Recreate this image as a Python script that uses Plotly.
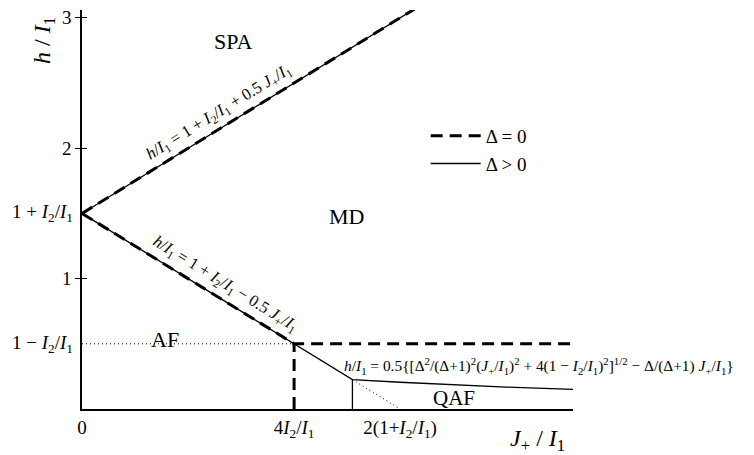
import plotly.graph_objects as go

# phase boundaries (x = J+/I1, y = h/I1, I2/I1 = 0.5)
upper_j = [0.0, 3.3]
upper_h = [1.5, 3.15]

# Delta = 0 (dashed)
lower0_j = [0.0, 2.0, 4.63]
lower0_h = [1.5, 0.5, 0.5]
vert0_j = [2.0, 2.0]
vert0_h = [0.0, 0.5]

# Delta > 0 (solid)
lower1_j = [0.0, 2.55, 3.0, 3.5, 4.0, 4.63]
lower1_h = [1.5, 0.225, 0.205, 0.185, 0.168, 0.15]
vert1_j = [2.55, 2.55]
vert1_h = [0.0, 0.225]

# dotted guides
dot_af_j = [0.0, 2.0]
dot_af_h = [0.5, 0.5]
dot_qaf_j = [2.55, 3.0]
dot_qaf_h = [0.225, 0.0]

ytick_vals = [1, 2, 3]
ytick_text = ["1", "2", "3"]
xtick_vals = [0, 2, 3]
xtick_text = ["0", "4<i>I</i><sub>2</sub>/<i>I</i><sub>1</sub>",
              "2(1+<i>I</i><sub>2</sub>/<i>I</i><sub>1</sub>)"]

FONT = "Liberation Serif"
I21 = "<i>I</i><sub>2</sub>/<i>I</i><sub>1</sub>"

fig = go.Figure()

solid = dict(color="black", width=1.3)
dashed = dict(color="black", width=3, dash="12px,7px")
dotted = dict(color="black", width=1, dash="1px,3px")

for jj, hh, show in [(upper_j, upper_h, True), (lower1_j, lower1_h, False), (vert1_j, vert1_h, False)]:
    fig.add_trace(go.Scatter(x=jj, y=hh, mode="lines", line=solid, name="Δ > 0",
                             legendgroup="b", showlegend=show, legendrank=2, hoverinfo="skip"))
for jj, hh, show in [(upper_j, upper_h, True), (lower0_j, lower0_h, False), (vert0_j, vert0_h, False)]:
    fig.add_trace(go.Scatter(x=jj, y=hh, mode="lines", line=dashed, name="Δ = 0",
                             legendgroup="a", showlegend=show, legendrank=1, hoverinfo="skip"))
for jj, hh in [(dot_af_j, dot_af_h), (dot_qaf_j, dot_qaf_h)]:
    fig.add_trace(go.Scatter(x=jj, y=hh, mode="lines", line=dotted, yaxis="y2",
                             showlegend=False, hoverinfo="skip"))

ann = []
def txt(x, y, s, size, **kw):
    ann.append(dict(x=x, y=y, text=s, showarrow=False, font=dict(family=FONT, size=size, color="black"), **kw))

txt(1.42, 2.82, "SPA", 22)
txt(2.49, 1.48, "MD", 22)
txt(0.78, 0.53, "AF", 22)
txt(3.51, 0.085, "QAF", 21)
txt(1.36, 2.18, "<i>h</i>/<i>I</i><sub>1</sub> = 1 + " + I21 + " + 0.5 <i>J</i><sub>+</sub>/<i>I</i><sub>1</sub>",
    16.5, textangle=-31.7, xshift=-8, yshift=13)
txt(1.3, 0.85, "<i>h</i>/<i>I</i><sub>1</sub> = 1 + " + I21 + " − 0.5 <i>J</i><sub>+</sub>/<i>I</i><sub>1</sub>",
    16.5, textangle=31.7, xshift=6, yshift=14)
txt(2.455, 0.33, "<i>h</i>/<i>I</i><sub>1</sub> = 0.5{[Δ<sup>2</sup>/(Δ+1)<sup>2</sup>(<i>J</i><sub>+</sub>/<i>I</i><sub>1</sub>)<sup>2</sup>"
    " + 4(1 − " + I21 + ")<sup>2</sup>]<sup>1/2</sup> − Δ/(Δ+1) <i>J</i><sub>+</sub>/<i>I</i><sub>1</sub>}",
    15.4, xanchor="left")
# extra y tick labels without tick marks
txt(0, 1.5, "1 + " + I21, 19, xanchor="right", xshift=-7)
txt(0, 0.5, "1 − " + I21, 19, xanchor="right", xshift=-7)
# axis titles
ann.append(dict(x=-0.0774, y=0.925, xref="paper", yref="paper", xanchor="center", yanchor="middle",
                text="<i>h</i> / <i>I</i><sub>1</sub>",
                showarrow=False, textangle=-90, font=dict(family=FONT, size=24, color="black")))
ann.append(dict(x=0.927, y=-0.077, xref="paper", yref="paper", xanchor="center", yanchor="middle",
                text="<i>J</i><sub>+</sub> / <i>I</i><sub>1</sub>",
                showarrow=False, font=dict(family=FONT, size=24, color="black")))

fig.update_layout(
    width=746, height=447,
    margin=dict(l=74, r=181, t=0, b=46),
    paper_bgcolor="white", plot_bgcolor="white",
    font=dict(family=FONT, size=19, color="black"),
    annotations=ann,
    xaxis=dict(range=[0, 4.63], showgrid=False, zeroline=False, showline=True,
               linecolor="black", linewidth=2, ticks="", tickmode="array",
               tickvals=xtick_vals, ticktext=xtick_text, tickfont=dict(size=19),
               ticklabeloverflow="allow"),
    yaxis=dict(range=[0, 3.06], showgrid=False, zeroline=False, showline=True,
               linecolor="black", linewidth=1.5, ticks="outside", ticklen=5,
               tickcolor="black", tickmode="array", tickvals=ytick_vals,
               ticktext=ytick_text, tickfont=dict(size=19), ticklabeloverflow="allow"),
    yaxis2=dict(overlaying="y", matches="y", range=[0, 3.06], showgrid=False, zeroline=False,
                showline=False, ticks="inside", ticklen=5, tickcolor="black",
                tickmode="array", tickvals=ytick_vals, showticklabels=False, side="left"),
    legend=dict(x=0.7, y=0.732, xanchor="left", yanchor="top", bgcolor="rgba(0,0,0,0)",
                font=dict(family=FONT, size=19), itemwidth=50, tracegroupgap=0),
    showlegend=True,
)

fig.write_html("out.html")
